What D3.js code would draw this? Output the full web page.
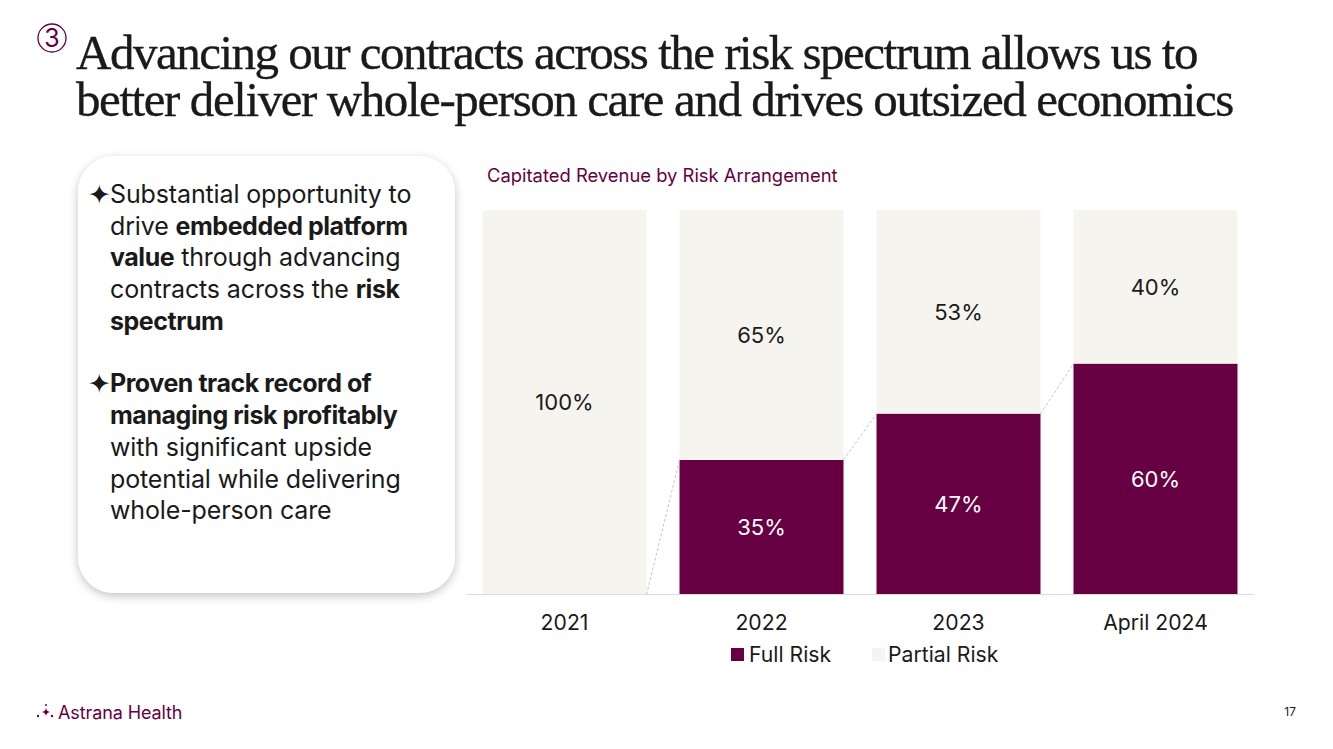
<!DOCTYPE html>
<html>
<head>
<meta charset="utf-8">
<script src="https://cdn.jsdelivr.net/npm/d3@7"></script>
<style>
  html, body { margin: 0; padding: 0; background: #fff; overflow: hidden; }
  svg { display: block; font-family: Inter, sans-serif; }
</style>
</head>
<body>
<div id="chart"></div>
<script>
const titleLines = [
  "Advancing our contracts across the risk spectrum allows us to",
  "better deliver whole-person care and drives outsized economics",
];
const chartTitle = "Capitated Revenue by Risk Arrangement";
const categories = ["2021", "2022", "2023", "April 2024"];
const fullRisk = [0, 35, 47, 60];
const partialRisk = [100, 65, 53, 40];
const legendLabels = ["Full Risk", "Partial Risk"];
const bulletLines = [
  [["Substantial opportunity to", 0]],
  [["drive ", 0], ["embedded platform", 1]],
  [["value", 1], [" through advancing", 0]],
  [["contracts across the ", 0], ["risk", 1]],
  [["spectrum", 1]],
  [],
  [["Proven track record of", 1]],
  [["managing risk profitably", 1]],
  [["with significant upside", 0]],
  [["potential while delivering", 0]],
  [["whole-person care", 0]],
];
const bulletRows = [0, 6];

const purple = "#660042";
const cream = "#f6f4ef";
const ink = "#1a1a1a";

const svg = d3
  .select("#chart")
  .append("svg")
  .attr("width", 1333)
  .attr("height", 749)
  .attr("viewBox", "0 0 1333 749");

const shadow = svg
  .append("defs")
  .append("filter")
  .attr("id", "panel-shadow")
  .attr("x", "-10%")
  .attr("y", "-10%")
  .attr("width", "120%")
  .attr("height", "120%");
shadow
  .append("feDropShadow")
  .attr("dx", 0)
  .attr("dy", 3)
  .attr("stdDeviation", 5)
  .attr("flood-color", "#000")
  .attr("flood-opacity", 0.24);

drawHeader();
drawPanel();
drawChart();
drawFooter();

function drawHeader() {
  svg
    .append("circle")
    .attr("cx", 52)
    .attr("cy", 38)
    .attr("r", 14)
    .attr("fill", "none")
    .attr("stroke", purple)
    .attr("stroke-width", 1.3);
  svg
    .append("text")
    .attr("x", 52)
    .attr("y", 47)
    .attr("text-anchor", "middle")
    .attr("font-size", 25)
    .attr("fill", purple)
    .text("3");

  svg
    .selectAll(".title")
    .data(titleLines)
    .join("text")
    .attr("class", "title")
    .attr("x", 76)
    .attr("y", (d, i) => 69 + i * 47)
    .attr("font-family", "'Liberation Serif', serif")
    .attr("font-size", 49)
    .attr("letter-spacing", (d, i) => (i === 0 ? -1.5 : -1.42))
    .attr("fill", ink)
    .attr("stroke", ink)
    .attr("stroke-width", 0.35)
    .text((d) => d);
}

function drawPanel() {
  svg
    .append("rect")
    .attr("x", 78)
    .attr("y", 156)
    .attr("width", 377)
    .attr("height", 437)
    .attr("rx", 36)
    .attr("fill", "#fff")
    .attr("filter", "url(#panel-shadow)");

  // Second block sits a little closer than a full blank row
  const rowY = (i) => 202.7 + i * 31.8 - (i >= 6 ? 1.4 : 0);

  svg
    .selectAll(".bullet")
    .data(bulletRows)
    .join("text")
    .attr("class", "bullet")
    .attr("x", 88)
    .attr("y", (d) => rowY(d) + 1)
    .attr("font-family", "'DejaVu Sans', sans-serif")
    .attr("font-size", 27)
    .attr("fill", ink)
    .text("\u2726");

  const rows = svg
    .selectAll(".bullet-line")
    .data(bulletLines)
    .join("text")
    .attr("class", "bullet-line")
    .attr("x", 110)
    .attr("y", (d, i) => rowY(i))
    .attr("font-size", 25)
    .attr("fill", ink);

  rows
    .selectAll("tspan")
    .data((d) => d)
    .join("tspan")
    .attr("font-weight", (d) => (d[1] ? 700 : 400))
    .attr("letter-spacing", (d) => (d[1] ? -0.45 : -0.13))
    .style("white-space", "pre")
    .text((d) => d[0]);
}

function drawChart() {
  const x = d3
    .scaleBand()
    .domain(categories)
    .range([466, 1254])
    .paddingInner(0.1675)
    .paddingOuter(0.0838);
  const y = d3.scaleLinear().domain([0, 100]).range([594.6, 210]);

  svg
    .append("text")
    .attr("x", 487)
    .attr("y", 182)
    .attr("font-size", 18.4)
    .attr("fill", purple)
    .text(chartTitle);

  const rows = categories.map((c, i) => ({
    category: c,
    full: fullRisk[i],
    partial: partialRisk[i],
  }));

  // Partial risk sits on top of full risk
  svg
    .selectAll(".bar-partial")
    .data(rows)
    .join("rect")
    .attr("class", "bar-partial")
    .attr("x", (d) => x(d.category))
    .attr("y", (d) => y(d.full + d.partial))
    .attr("width", x.bandwidth())
    .attr("height", (d) => y(d.full) - y(d.full + d.partial))
    .attr("fill", cream);

  svg
    .selectAll(".bar-full")
    .data(rows.filter((d) => d.full > 0))
    .join("rect")
    .attr("class", "bar-full")
    .attr("x", (d) => x(d.category))
    .attr("y", (d) => y(d.full))
    .attr("width", x.bandwidth())
    .attr("height", (d) => y(0) - y(d.full))
    .attr("fill", purple);

  // Dashed series lines between neighbouring bars
  svg
    .selectAll(".series-line")
    .data(d3.pairs(rows))
    .join("line")
    .attr("class", "series-line")
    .attr("x1", (d) => x(d[0].category) + x.bandwidth())
    .attr("y1", (d) => y(d[0].full))
    .attr("x2", (d) => x(d[1].category))
    .attr("y2", (d) => y(d[1].full))
    .attr("stroke", "#b9b5b8")
    .attr("stroke-width", 0.8)
    .attr("stroke-dasharray", "3 2");

  const axis = svg
    .append("g")
    .attr("transform", `translate(0,${y(0) - 0.6})`)
    .call(d3.axisBottom(x).tickSize(0).tickPadding(21));
  axis.select(".domain").attr("stroke", "#dcdcdc").attr("stroke-width", 1);
  axis
    .selectAll("text")
    .attr("font-family", "Inter, sans-serif")
    .attr("font-size", 21.2)
    .attr("fill", ink);

  svg
    .selectAll(".label-partial")
    .data(rows)
    .join("text")
    .attr("class", "label-partial")
    .attr("x", (d) => x(d.category) + x.bandwidth() / 2)
    .attr("y", (d) => y(d.full + d.partial / 2) + 8)
    .attr("text-anchor", "middle")
    .attr("font-size", 22)
    .attr("fill", ink)
    .text((d) => `${d.partial}%`);

  svg
    .selectAll(".label-full")
    .data(rows.filter((d) => d.full > 0))
    .join("text")
    .attr("class", "label-full")
    .attr("x", (d) => x(d.category) + x.bandwidth() / 2)
    .attr("y", (d) => y(d.full / 2) + 8)
    .attr("text-anchor", "middle")
    .attr("font-size", 22)
    .attr("fill", "#fff")
    .text((d) => `${d.full}%`);

  const legend = svg
    .selectAll(".legend-item")
    .data(legendLabels)
    .join("g")
    .attr("class", "legend-item")
    .attr("transform", (d, i) => `translate(${731 + i * 141},648)`);
  legend
    .append("rect")
    .attr("width", 13)
    .attr("height", 13)
    .attr("fill", (d, i) => (i === 0 ? purple : cream));
  legend
    .append("text")
    .attr("x", (d, i) => (i === 0 ? 18 : 16))
    .attr("y", 14)
    .attr("font-size", 21.2)
    .attr("fill", ink)
    .text((d) => d);
}

function drawFooter() {
  const logo = svg.append("g").attr("fill", purple);
  logo
    .append("path")
    .attr(
      "d",
      "M46 708 Q46.6 711.4 50 712 Q46.6 712.6 46 716 Q45.4 712.6 42 712 Q45.4 711.4 46 708 Z"
    );
  [
    [38, 716, 1.2],
    [46, 705, 1],
    [52, 716, 1.2],
  ].forEach(([cx, cy, r]) => {
    logo.append("circle").attr("cx", cx).attr("cy", cy).attr("r", r);
  });
  svg
    .append("text")
    .attr("x", 58)
    .attr("y", 718.5)
    .attr("font-size", 18)
    .attr("letter-spacing", -0.1)
    .attr("fill", purple)
    .text("Astrana Health");

  svg
    .append("text")
    .attr("x", 1296)
    .attr("y", 716)
    .attr("text-anchor", "end")
    .attr("font-size", 12)
    .attr("fill", ink)
    .text("17");
}
</script>
</body>
</html>
